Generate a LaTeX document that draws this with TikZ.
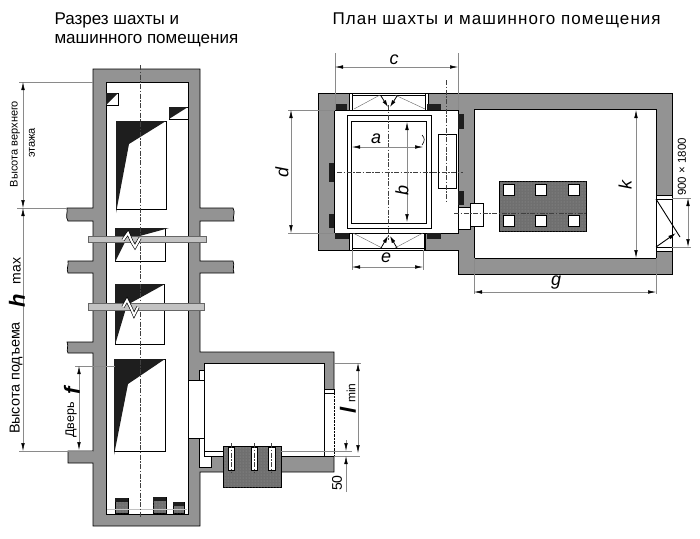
\documentclass[tikz,border=0pt]{standalone}
\usepackage{fontspec}
\setmainfont{Liberation Sans}
\usetikzlibrary{arrows.meta,patterns}
\definecolor{wallgray}{HTML}{939393}
\definecolor{slabgray}{HTML}{6F6F6F}
\definecolor{bandgray}{HTML}{C2C2C2}
\definecolor{dimgray}{HTML}{8A8A8A}
\definecolor{blackfill}{HTML}{1E1E1E}
\tikzset{
  wall/.style={fill=wallgray,draw=black,line width=0.7pt},
  hole/.style={fill=white,draw=black,line width=0.7pt},
  base/.style={fill=slabgray,draw=black,line width=0.7pt,postaction={pattern=dots,pattern color=white!30!slabgray}},
  band/.style={fill=bandgray,draw=black!60,line width=0.5pt},
  zigzag/.style={white,line width=2pt,preaction={draw=black,line width=3.2pt}},
  blackpart/.style={fill=blackfill,draw=none},
  axisline/.style={dash pattern=on 5pt off 1.5pt on 1.5pt off 1.5pt,line width=0.5pt,black!75},
  extline/.style={dimgray,line width=0.5pt},
  dimline/.style={dimgray,line width=0.5pt,{Latex[length=8pt,width=3.5pt,color=black]}-{Latex[length=8pt,width=3.5pt,color=black]}},
  title/.style={anchor=west,font=\fontsize{17}{20}\selectfont},
  sidetext/.style={rotate=90,font=\fontsize{11}{14}\selectfont},
  letter/.style={font=\fontsize{18}{20}\selectfont\itshape},
  bigletter/.style={font=\fontsize{22}{24}\selectfont\bfseries\itshape}
}
\begin{document}
\begin{tikzpicture}[x=1pt,y=-1pt]
\useasboundingbox (0,0) rectangle (700,538);
\node[title] at (51,20) {Разрез шахты и};
\node[title] at (51,41) {машинного помещения};
\node[title] at (329,20) {\addfontfeature{LetterSpace=6.2}План шахты и машинного помещения};
% section
\filldraw[wall] (93,69) -- (200,69) -- (200,208) -- (233,208) .. controls (236,213) and (232,216) .. (234,221) -- (200,221)
  -- (200,261) -- (233,261) .. controls (235,265) and (232,269) .. (234,273) -- (200,273) -- (200,352) -- (334,352)
  -- (334,472) -- (200,472) -- (200,526) -- (93,526) -- (93,463) -- (68,463) -- (68,451) -- (93,451) -- (93,353)
  -- (68,353) .. controls (66,350) and (69,346) .. (67,342) -- (93,342) -- (93,273) -- (68,273) .. controls (66,269) and (69,265) .. (68,261)
  -- (93,261) -- (93,221) -- (68,221) .. controls (65,217) and (68,212) .. (67,208) -- (93,208) -- cycle;
\filldraw[hole] (106,82) rectangle (188,514);
\filldraw[hole] (204,363) rectangle (324,452);
\fill[white] (188,380) rectangle (204,438);
\draw[line width=0.7pt] (188,380) -- (204,380) (188,438) -- (204,438) (188,380) -- (188,438);
\filldraw[hole] (199,370) rectangle (204,380);
\filldraw[hole] (199,438) -- (204,438) -- (204,456) -- (211,456) -- (211,467) -- (199,467) -- cycle;
\filldraw[hole] (204,451) rectangle (324,456);
\fill[white] (324,393) rectangle (335,456);
\draw[line width=0.7pt] (324,363) -- (324,456);
\filldraw[hole] (324,389) rectangle (334,393);
\draw[line width=0.7pt] (324,456) -- (334,456);
\draw[black,line width=0.4pt,densely dotted] (334,393) -- (334,456);
% cars
\filldraw[hole] (116,121) rectangle (166,209);
\fill[blackpart] (116,121) -- (166,121) -- (129,144) -- (116,213) -- cycle;
\filldraw[hole] (115,228) rectangle (165,261);
\fill[blackpart] (115,228) -- (169,228) -- (125,240) -- (125,242) -- (115,262) -- cycle;
\filldraw[hole] (115,284) rectangle (164,344);
\fill[blackpart] (115,284) -- (165,284) -- (127,305) -- (115,345) -- cycle;
\filldraw[hole] (114,359) rectangle (165,451);
\fill[blackpart] (114,359) -- (165,359) -- (128,384) -- (114,455) -- cycle;
\filldraw[hole] (106,93) rectangle (118,105);
\fill[blackpart] (106,93) -- (118,93) -- (106,105) -- cycle;
\filldraw[hole] (169,107) rectangle (188,119);
\fill[blackpart] (169,107) -- (188,107) -- (169,119) -- cycle;
% pit
\filldraw[base] (115,498) rectangle (128,513);
\fill[blackpart] (115,498) rectangle (128,501.5);
\filldraw[base] (153,497) rectangle (166,513);
\fill[blackpart] (153,497) rectangle (166,500.5);
\filldraw[base] (173,502) rectangle (184,513);
\fill[blackpart] (173,502) rectangle (184,505.5);
\draw[bandgray,line width=1pt] (107,509) -- (187,509);
\draw[axisline] (140,65) -- (140,518);
% breaks
\filldraw[band] (88,236) rectangle (206,242);
\draw[zigzag] (123,240) -- (128,233) -- (132,242) -- (135,247) -- (140,238);
\filldraw[band] (88,303) rectangle (204,310);
\draw[zigzag] (123,307) -- (127,300) -- (131,308) -- (134,315) -- (138,307);
% machine base
\filldraw[base] (223,446) rectangle (281,487);
\filldraw[hole] (228,447) rectangle (234,470);
\filldraw[hole] (251,447) rectangle (257,470);
\filldraw[hole] (268,447) rectangle (275,470);
\draw[axisline] (231,443) -- (231,473);
\draw[axisline] (254,443) -- (254,473);
\draw[axisline] (271,443) -- (271,473);
% section dims
\draw[extline] (19,82) -- (93,82);
\draw[extline] (17,208) -- (67,208);
\draw[extline] (19,451) -- (93,451);
\draw[extline] (75,366) -- (115,366);
\draw[extline] (334,363) -- (361,363);
\draw[extline] (281,451) -- (352,451);
\draw[extline] (334,456) -- (360,456);
\draw[dimline] (23,82) -- (23,208);
\draw[dimline] (23,208) -- (23,451);
\draw[dimline] (79,366) -- (79,450);
\draw[dimline] (358,363) -- (358,453);
\draw[extline,-{Latex[length=8pt,width=3.5pt,color=black]}] (346,440) -- (346,451);
\draw[extline,-{Latex[length=8pt,width=3.5pt,color=black]}] (346,492) -- (346,456);
\node[sidetext] at (15,144) {Высота верхнего};
\node[sidetext] at (32,143) {этажа};
\node[sidetext,font=\fontsize{14.4}{18}\selectfont] at (16,378) {Высота подъема};
\node[bigletter,rotate=90] at (17,301) {h};
\node[sidetext,font=\fontsize{14}{16}\selectfont] at (17,271) {max};
\node[bigletter,rotate=90] at (72,391) {f};
\node[sidetext,font=\fontsize{12.5}{14}\selectfont] at (71,420) {Дверь};
\node[bigletter,rotate=90] at (348,410) {l};
\node[sidetext,font=\fontsize{12}{14}\selectfont] at (351,393) {min};
\node[sidetext,font=\fontsize{14}{16}\selectfont] at (337,483) {50};
% plan
\filldraw[wall] (318,93) -- (672,93) -- (672,274) -- (458,274) -- (458,250) -- (318,250) -- cycle;
\filldraw[hole] (334,110) rectangle (458,233);
\filldraw[hole] (474,109) rectangle (656,258);
\filldraw[hole] (349,93) rectangle (428,110);
\filldraw[hole] (349,233) rectangle (425,250);
\draw[line width=0.5pt] (352,93) -- (352,110) (425,93) -- (425,110) (352,95) -- (425,95);
\draw[line width=0.5pt] (352,233) -- (352,250) (424,233) -- (424,250) (352,248) -- (424,248);
\draw[black!60,line width=0.4pt] (354,109) -- (380,95) (425,109) -- (395,95);
\draw[black!60,line width=0.4pt] (353,233) -- (382,248) (423,233) -- (395,248);
\draw[-{Latex[length=7pt,width=4pt]},line width=0.8pt] (381,96) -- (388,107);
\draw[-{Latex[length=7pt,width=4pt]},line width=0.8pt] (397,96) -- (390,107);
\draw[-{Latex[length=7pt,width=4pt]},line width=0.8pt] (381,248) -- (388,236);
\draw[-{Latex[length=7pt,width=4pt]},line width=0.8pt] (397,248) -- (390,236);
\fill[blackpart] (335,104) rectangle (347,110);
\fill[blackpart] (427,104) rectangle (441,110);
\fill[blackpart] (335,233) rectangle (349,239);
\fill[blackpart] (427,233) rectangle (441,239);
\fill[blackpart] (329,163) rectangle (334,182);
\fill[blackpart] (329,214) rectangle (334,228);
\fill[blackpart] (458,114) rectangle (464,129);
\fill[blackpart] (458,191) rectangle (464,205);
\draw[line width=0.6pt] (347,115) rectangle (431,228);
\draw[line width=1pt] (351,121) rectangle (426,223);
\draw[line width=0.7pt] (438,134) rectangle (456,188);
\filldraw[hole] (458,207) rectangle (470,229);
\filldraw[hole] (470,203) rectangle (483,226);
\filldraw[base] (499,181) rectangle (586,231);
\filldraw[hole] (503.5,184.5) rectangle (514.5,195.5);
\filldraw[hole] (535.5,184.5) rectangle (546.5,195.5);
\filldraw[hole] (568.5,184.5) rectangle (579.5,195.5);
\filldraw[hole] (503.5,215.5) rectangle (514.5,226.5);
\filldraw[hole] (535.5,215.5) rectangle (546.5,226.5);
\filldraw[hole] (568.5,215.5) rectangle (579.5,226.5);
\draw[axisline] (446,80) -- (446,202);
\draw[axisline] (337,172) -- (463,172);
\draw[axisline] (388,105) -- (388,240);
\draw[axisline] (454,213) -- (586,213);
% door
\filldraw[hole] (656,195) rectangle (672,251);
\filldraw[hole] (656,195) rectangle (672,199);
\filldraw[hole] (656,247) rectangle (672,251);
\draw[line width=0.9pt] (656,199) -- (680,237);
\draw[-{Latex[length=8pt,width=4pt]},line width=0.9pt] (656,247) -- (676,233);
% plan dims
\draw[extline] (335,53) -- (335,110);
\draw[extline] (458,53) -- (458,110);
\draw[extline] (288,110) -- (335,110);
\draw[extline] (288,233) -- (335,233);
\draw[extline] (352,250) -- (352,270);
\draw[extline] (423,250) -- (423,270);
\draw[extline] (474,258) -- (474,294);
\draw[extline] (656,258) -- (656,294);
\draw[extline] (672,198) -- (691,198);
\draw[extline] (672,247) -- (691,247);
\draw[dimline] (335,67) -- (458,67);
\draw[dimline] (291,110) -- (291,233);
\draw[dimline] (352,267) -- (423,267);
\draw[dimline] (352,147) -- (423,147);
\draw[dimline] (407,122) -- (407,222);
\draw[dimline] (636,110) -- (636,258);
\draw[dimline] (474,292) -- (656,292);
\draw[dimline] (688,198) -- (688,247);
\draw[line width=0.6pt] (422,135) .. controls (425,138) and (425,141) .. (422,145);
\node[letter] at (394,60) {c};
\node[letter,rotate=90] at (282,172) {d};
\node[letter] at (386,258) {e};
\node[letter] at (376,139) {a};
\node[letter,rotate=90] at (402,190) {b};
\node[letter,rotate=90] at (625,185) {k};
\node[letter] at (556,283) {g};
\node[rotate=90,font=\fontsize{11.5}{13}\selectfont] at (682,167) {900 × 1800};
\end{tikzpicture}
\end{document}
